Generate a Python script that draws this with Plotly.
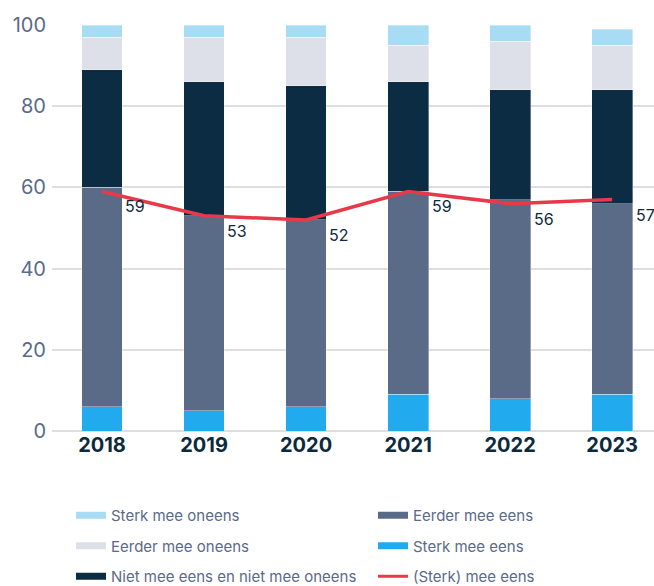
import plotly.graph_objects as go

years = ['2018', '2019', '2020', '2021', '2022', '2023']

# percentages per answer, bottom to top of the stack
sterk_eens = [6, 5, 6, 9, 8, 9]
eerder_eens = [54, 48, 46, 50, 49, 47]
neutraal = [29, 33, 33, 27, 27, 28]
eerder_oneens = [8, 11, 12, 9, 12, 11]
sterk_oneens = [3, 3, 3, 5, 4, 4]
totaal_eens = [59, 53, 52, 59, 56, 57]

colours = {
    'Sterk mee eens': '#22aaef',
    'Eerder mee eens': '#5a6b88',
    'Niet mee eens en niet mee oneens': '#0b2c42',
    'Eerder mee oneens': '#dde0e8',
    'Sterk mee oneens': '#a8dcf5',
}
series = {
    'Sterk mee eens': sterk_eens,
    'Eerder mee eens': eerder_eens,
    'Niet mee eens en niet mee oneens': neutraal,
    'Eerder mee oneens': eerder_oneens,
    'Sterk mee oneens': sterk_oneens,
}

x = list(range(len(years)))
fig = go.Figure()

for name, vals in series.items():
    fig.add_trace(go.Bar(x=x, y=vals, name=name, marker_color=colours[name],
                         marker_line=dict(width=0.6, color='rgba(255,255,255,0.6)'),
                         showlegend=False, hoverinfo='skip'))

fig.add_trace(go.Scatter(x=x, y=totaal_eens, mode='lines', name='(Sterk) mee eens',
                         line=dict(color='#e8394a', width=3.5), showlegend=False))

# legend entries as short thick lines, two columns = two legends
left_col = ['Sterk mee oneens', 'Eerder mee oneens', 'Niet mee eens en niet mee oneens']
right_col = ['Eerder mee eens', 'Sterk mee eens', '(Sterk) mee eens']
for col, leg in ((left_col, 'legend'), (right_col, 'legend2')):
    for name in col:
        if name == '(Sterk) mee eens':
            line = dict(color='#e8394a', width=3)
        else:
            line = dict(color=colours[name], width=7)
        fig.add_trace(go.Scatter(x=[None], y=[None], mode='lines', name=name,
                                 legendgroup=name, legend=leg, line=line))

for i, v in enumerate(totaal_eens):
    fig.add_annotation(x=i + 0.2, y=v, text=str(v), showarrow=False,
                       xanchor='left', yanchor='top', xshift=1, yshift=-3,
                       font=dict(size=16, color='#0b2a40', family='Inter'))

W, H = 654, 586
leg_style = dict(orientation='v', traceorder='grouped', tracegroupgap=8,
                 xref='container', xanchor='left',
                 y=1 - 499 / H, yref='container', yanchor='top',
                 font=dict(size=15, color='#5a6a8a'), bgcolor='rgba(0,0,0,0)')

fig.update_layout(
    width=W, height=H,
    margin=dict(l=52, r=0, t=25, b=155, autoexpand=False),
    plot_bgcolor='white', paper_bgcolor='white',
    barmode='stack', bargap=0.6,
    font=dict(family='Inter', color='#5a6a8a'),
    legend=dict(x=71 / W, **leg_style),
    legend2=dict(x=373 / W, **leg_style),
)
fig.update_xaxes(tickvals=x, ticktext=years, range=[-0.49, 5.41],
                 tickfont=dict(size=20, color='#0b2a40', family='Inter', weight='bold'),
                 showgrid=False, zeroline=False, ticks='')
fig.update_yaxes(range=[0, 100], dtick=20, gridcolor='#dedede', gridwidth=1.5,
                 zeroline=True, zerolinecolor='#dedede', zerolinewidth=1.5,
                 tickfont=dict(size=20, color='#5a6a8a'), ticks='', ticklabelstandoff=5)

# drop the default page margin so the figure fills the window exactly
fig.write_html("out.html", config={'displayModeBar': False},
               post_script="document.body.style.margin='0';document.body.style.overflow='hidden';")
